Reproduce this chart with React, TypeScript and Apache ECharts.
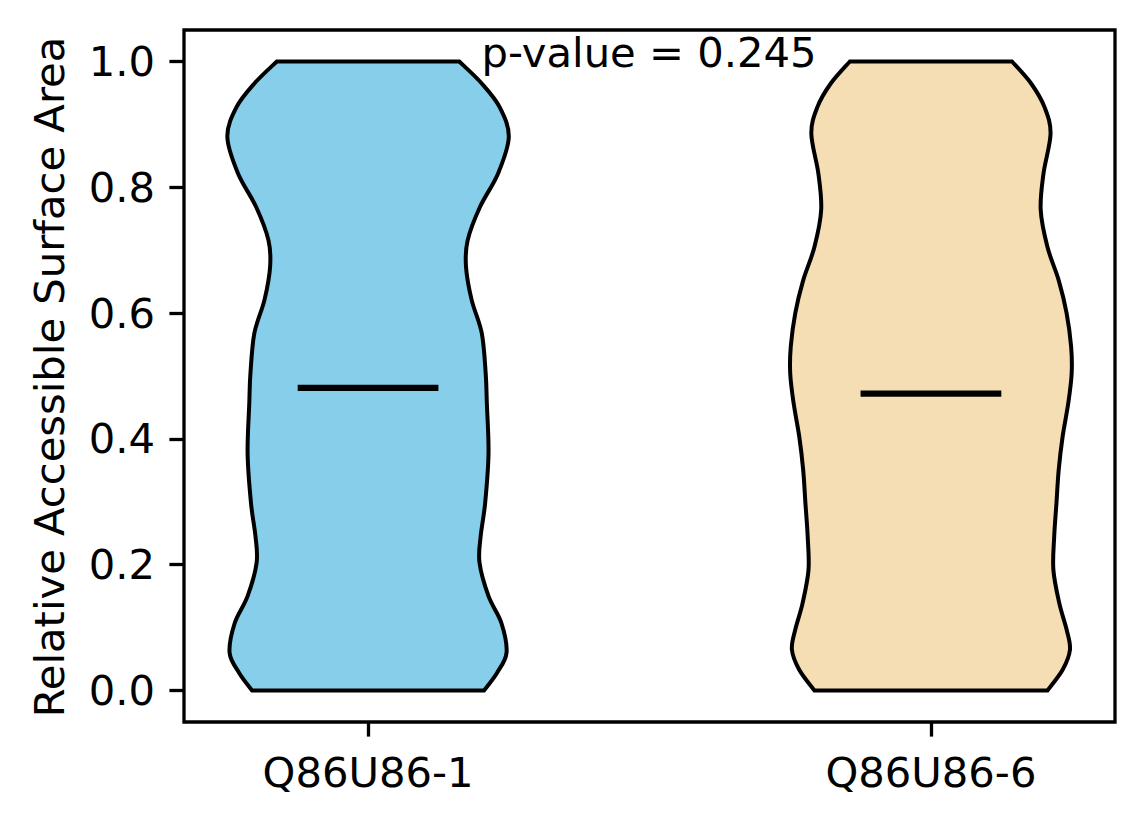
import React, { useEffect, useRef } from "react";
import * as echarts from "echarts";

const categories = ["Q86U86-1", "Q86U86-6"];
const positions = [1, 2];
const medians = [0.481, 0.472];
const medianHalfWidth = 0.125;

const violin1Levels = [0, 0.028, 0.06, 0.107, 0.15, 0.203, 0.245, 0.298, 0.377, 0.457, 0.504, 0.568, 0.621, 0.674, 0.716, 0.769, 0.822, 0.88, 0.927, 0.965, 1.0];
const violin1HalfWidths = [0.206, 0.229, 0.246, 0.237, 0.214, 0.198, 0.2, 0.208, 0.214, 0.211, 0.209, 0.202, 0.184, 0.174, 0.177, 0.199, 0.231, 0.25, 0.234, 0.202, 0.162];

const violin2Levels = [0, 0.033, 0.065, 0.097, 0.139, 0.192, 0.245, 0.298, 0.351, 0.404, 0.457, 0.504, 0.547, 0.6, 0.652, 0.705, 0.764, 0.822, 0.885, 0.927, 0.965, 1.0];
const violin2HalfWidths = [0.207, 0.234, 0.247, 0.241, 0.228, 0.2175, 0.219, 0.223, 0.227, 0.234, 0.244, 0.25, 0.249, 0.241, 0.227, 0.207, 0.195, 0.2, 0.2125, 0.202, 0.178, 0.144];

const yTicks = [0, 0.2, 0.4, 0.6, 0.8, 1.0];
const yAxisTitle = "Relative Accessible Surface Area";
const pValueText = "p-value = 0.245";

const violinLevels = [violin1Levels, violin2Levels];
const violinHalfWidths = [violin1HalfWidths, violin2HalfWidths];
const fillColors = ["#87CEEB", "#F5DEB3"];

const FONT = "DejaVu Sans";
const FS = 41.7;

function catmullSegments(pts: number[][]): string {
  let s = "";
  for (let i = 0; i < pts.length - 1; i++) {
    const p0 = pts[i - 1] || pts[i];
    const p1 = pts[i];
    const p2 = pts[i + 1];
    const p3 = pts[i + 2] || p2;
    const c1x = p1[0] + (p2[0] - p0[0]) / 6;
    const c1y = p1[1] + (p2[1] - p0[1]) / 6;
    const c2x = p2[0] - (p3[0] - p1[0]) / 6;
    const c2y = p2[1] - (p3[1] - p1[1]) / 6;
    s += ` C${c1x} ${c1y} ${c2x} ${c2y} ${p2[0]} ${p2[1]}`;
  }
  return s;
}

export default function App() {
  const ref = useRef<HTMLDivElement>(null);
  useEffect(() => {
    if (!ref.current) return;
    const chart = echarts.init(ref.current, null, { renderer: "svg" });
    const option: any = {
      animation: false,
      backgroundColor: "#ffffff",
      grid: {
        left: 184,
        right: 29,
        top: 30,
        bottom: 102,
        show: true,
        borderColor: "#000",
        borderWidth: 3.3,
        backgroundColor: "transparent",
      },
      xAxis: {
        type: "value",
        min: 0.673,
        max: 2.327,
        splitLine: { show: false },
        axisLine: { show: false, onZero: false },
        axisTick: {
          show: true,
          customValues: positions,
          length: 14.6,
          lineStyle: { color: "#000", width: 3.3 },
        },
        axisLabel: {
          customValues: positions,
          formatter: (v: number) => categories[Math.round(v) - 1] ?? "",
          fontFamily: FONT,
          fontSize: FS,
          color: "#000",
          margin: 29,
        },
      },
      yAxis: {
        type: "value",
        min: -0.05,
        max: 1.05,
        splitLine: { show: false },
        axisLine: { show: false, onZero: false },
        axisTick: {
          show: true,
          customValues: yTicks,
          length: 14.6,
          lineStyle: { color: "#000", width: 3.3 },
        },
        axisLabel: {
          customValues: yTicks,
          formatter: (v: number) => v.toFixed(1),
          fontFamily: FONT,
          fontSize: FS,
          color: "#000",
          margin: 29,
        },
      },
      graphic: [
        {
          type: "text",
          x: 49,
          y: 377,
          rotation: Math.PI / 2,
          style: {
            text: yAxisTitle,
            fontFamily: FONT,
            fontSize: FS,
            fill: "#000",
            align: "center",
            verticalAlign: "middle",
          },
        },
        {
          type: "text",
          x: 649,
          y: 52,
          z: 100,
          style: {
            text: pValueText,
            fontFamily: FONT,
            fontSize: FS,
            fill: "#000",
            align: "center",
            verticalAlign: "middle",
          },
        },
      ],
      series: [
        {
          type: "custom",
          encode: { x: 0, y: 1 },
          data: positions.map((p, i) => [p, medians[i]]),
          renderItem: (params: any, api: any) => {
            const i = params.dataIndex;
            const pos = api.value(0);
            const med = api.value(1);
            const levels = violinLevels[i];
            const widths = violinHalfWidths[i];
            const right = levels.map((y, k) => api.coord([pos + widths[k], y]));
            const left = levels.map((y, k) => api.coord([pos - widths[k], y]));
            const leftDown = left.slice().reverse();
            const n = levels.length;
            const d =
              `M${right[0][0]} ${right[0][1]}` +
              catmullSegments(right) +
              ` L${left[n - 1][0]} ${left[n - 1][1]}` +
              catmullSegments(leftDown) +
              " Z";
            const m1 = api.coord([pos - medianHalfWidth, med]);
            const m2 = api.coord([pos + medianHalfWidth, med]);
            return {
              type: "group",
              children: [
                {
                  type: "path",
                  shape: { pathData: d },
                  style: { fill: fillColors[i], stroke: "#000", lineWidth: 4, lineJoin: "miter" },
                },
                {
                  type: "line",
                  shape: { x1: m1[0], y1: m1[1], x2: m2[0], y2: m2[1] },
                  style: { stroke: "#000", lineWidth: 6.25 },
                },
              ],
            };
          },
        },
      ],
    };
    chart.setOption(option);
    return () => chart.dispose();
  }, []);
  return (
    <div
      ref={ref}
      style={{ position: "absolute", left: 0, top: 0, width: 1144, height: 824, background: "#fff" }}
    />
  );
}
